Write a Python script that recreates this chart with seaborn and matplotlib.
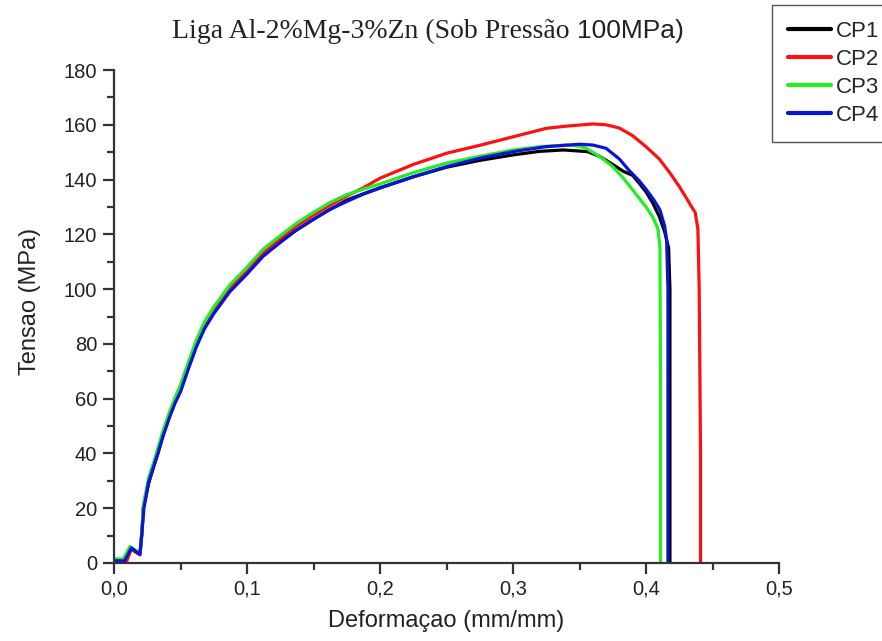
import numpy as np
import pandas as pd
import matplotlib
matplotlib.use("Agg")
import matplotlib.pyplot as plt
from matplotlib.ticker import MultipleLocator, FuncFormatter
import seaborn as sns

# ---- data ----
cp1_x = [0.000, 0.008, 0.012, 0.0195, 0.021, 0.022, 0.026, 0.030, 0.033, 0.037,
         0.042, 0.046, 0.050, 0.056, 0.062, 0.068, 0.075, 0.081, 0.087, 0.094,
         0.100, 0.112, 0.125, 0.137, 0.150, 0.162, 0.175, 0.1875, 0.200, 0.225,
         0.250, 0.275, 0.300, 0.320, 0.338, 0.356, 0.365, 0.375, 0.383, 0.390,
         0.396, 0.400, 0.405, 0.410, 0.414, 0.417, 0.418, 0.418]
cp1_y = [0.5, 0.5, 5.5, 3.0, 11, 20, 29, 35.5, 40, 47,
         54, 59, 63, 71.5, 79.5, 86, 91.5, 95.5, 99.5, 103,
         106, 112, 117.5, 121.5, 125.5, 129, 132.5, 134.8, 137, 141,
         144.5, 147, 149, 150.3, 150.8, 150.2, 148.5, 145.5, 143, 141.5,
         138, 135.5, 131.5, 126.5, 121, 115, 100, 0]

cp2_x = [0.000, 0.009, 0.013, 0.0195, 0.021, 0.022, 0.026, 0.030, 0.033, 0.037,
         0.042, 0.046, 0.050, 0.056, 0.062, 0.068, 0.075, 0.081, 0.087, 0.094,
         0.100, 0.112, 0.125, 0.137, 0.150, 0.162, 0.175, 0.1875, 0.200, 0.225,
         0.250, 0.275, 0.300, 0.325, 0.340, 0.360, 0.370, 0.380, 0.390, 0.400,
         0.410, 0.418, 0.425, 0.430, 0.435, 0.437, 0.439, 0.440, 0.441, 0.441]
cp2_y = [0.0, 0.0, 5.0, 3.0, 11, 20, 29.5, 36, 40.5, 47.5,
         54.5, 59.5, 64, 72.5, 80.5, 87, 92.5, 96.5, 100.5, 104,
         107, 113, 118.5, 123, 127, 130.5, 134, 137, 140.5, 145.5,
         149.6, 152.5, 155.6, 158.7, 159.5, 160.3, 160, 158.8, 156, 152,
         147.5, 142.4, 137.5, 133.5, 129.5, 128, 122, 100, 40, 0]

cp3_x = [0.000, 0.007, 0.012, 0.0195, 0.021, 0.022, 0.026, 0.030, 0.033, 0.037,
         0.042, 0.046, 0.050, 0.056, 0.062, 0.068, 0.075, 0.081, 0.087, 0.094,
         0.100, 0.112, 0.125, 0.137, 0.150, 0.162, 0.175, 0.1875, 0.200, 0.225,
         0.250, 0.275, 0.300, 0.320, 0.340, 0.350, 0.355, 0.365, 0.375, 0.383,
         0.390, 0.396, 0.400, 0.405, 0.409, 0.4105, 0.411, 0.411]
cp3_y = [1.5, 1.5, 6.0, 3.5, 12, 21, 31, 37, 42, 48.5,
         55.5, 60.5, 65, 73.5, 81.5, 88, 93.5, 97.5, 101.5, 105,
         108, 114.5, 119.5, 124, 128, 131.5, 134.5, 136.5, 138.4, 142.5,
         146, 148.5, 150.8, 152, 152.6, 152.2, 151.4, 148.5, 144.7, 140.5,
         136.2, 132.5, 130, 126.4, 122, 115, 60, 0]

cp4_x = [0.000, 0.008, 0.013, 0.0195, 0.021, 0.0225, 0.026, 0.030, 0.033, 0.037,
         0.042, 0.046, 0.050, 0.056, 0.062, 0.068, 0.075, 0.081, 0.087, 0.094,
         0.100, 0.112, 0.125, 0.137, 0.150, 0.162, 0.175, 0.1875, 0.200, 0.225,
         0.250, 0.275, 0.300, 0.325, 0.350, 0.360, 0.370, 0.380, 0.387, 0.395,
         0.400, 0.406, 0.4105, 0.4140, 0.4155, 0.4165, 0.4165]
cp4_y = [0.8, 0.8, 5.5, 3.2, 11, 20, 29.5, 35.5, 40, 46.5,
         53.5, 58.5, 62.5, 71, 79, 85.5, 91, 95, 99, 102.5,
         105.5, 112, 117, 121.5, 125.5, 129, 132, 134.7, 136.9, 141,
         144.7, 147.8, 150.2, 152, 152.9, 152.6, 151.4, 147.5, 143.5, 139.5,
         136.5, 132.5, 128.9, 123, 117.9, 100, 0]

series_names = ["CP1", "CP2", "CP3", "CP4"]
series_colors = ["#000000", "#ff1010", "#22ee22", "#0a14d8"]

title_serif = "Liga Al-2%Mg-3%Zn (Sob Pressão "
title_sans = "100MPa)"
x_label = "Deformaçao (mm/mm)"
y_label = "Tensao (MPa)"

frames = []
for name, xs, ys in zip(series_names, [cp1_x, cp2_x, cp3_x, cp4_x], [cp1_y, cp2_y, cp3_y, cp4_y]):
    frames.append(pd.DataFrame({"x": xs, "y": ys, "CP": name}))
df = pd.concat(frames, ignore_index=True)

sns.set_style("ticks")
plt.rcParams["font.family"] = ["Liberation Sans", "DejaVu Sans"]

fig = plt.figure(figsize=(8.82, 6.41), dpi=100)
ax = fig.add_axes([114 / 882, 1 - 563 / 641, (779 - 114) / 882, (563 - 70) / 641])

sns.lineplot(data=df, x="x", y="y", hue="CP", palette=dict(zip(series_names, series_colors)),
             sort=False, estimator=None, linewidth=2.3, ax=ax)

ax.set_xlim(0, 0.5)
ax.set_ylim(0, 180)
ax.xaxis.set_major_locator(MultipleLocator(0.1))
ax.xaxis.set_minor_locator(MultipleLocator(0.05))
ax.yaxis.set_major_locator(MultipleLocator(20))
ax.yaxis.set_minor_locator(MultipleLocator(10))
ax.xaxis.set_major_formatter(FuncFormatter(lambda v, p: f"{v:.1f}".replace(".", ",")))
ax.yaxis.set_major_formatter(FuncFormatter(lambda v, p: f"{v:.0f}"))

for s in ["top", "right"]:
    ax.spines[s].set_visible(False)
for s in ["left", "bottom"]:
    ax.spines[s].set_linewidth(1.6)
    ax.spines[s].set_color("#333333")

ax.tick_params(which="major", direction="out", length=8, width=1.6, color="#333333",
               labelsize=14.5, labelcolor="#222222", pad=4)
ax.tick_params(which="minor", direction="out", length=5, width=1.6, color="#333333")

ax.set_xlabel(x_label, fontsize=17, color="#222222")
ax.set_ylabel(y_label, fontsize=17, color="#222222")
ax.xaxis.set_label_coords(0.5, (563 - 610) / 493)
ax.yaxis.set_label_coords((41 - 114) / 665, (563 - 301) / 493)

handles, labels = ax.get_legend_handles_labels()
leg = ax.legend(handles, labels, loc="upper left", bbox_to_anchor=(772 / 882, 1 - 5 / 641),
                bbox_transform=fig.transFigure, fontsize=16, frameon=True, fancybox=False,
                handlelength=1.95, handletextpad=0.22, labelspacing=0.31, borderpad=0.72,
                borderaxespad=0, framealpha=1, edgecolor="#555555")
leg.get_frame().set_linewidth(1.0)
for line in leg.get_lines():
    line.set_linewidth(3)

# mixed-font title
t1 = fig.text(0, 0, title_serif, fontsize=20, family=["Liberation Serif", "DejaVu Serif"],
              color="#222222", va="baseline")
t2 = fig.text(0, 0, title_sans, fontsize=19, family=["Liberation Sans", "DejaVu Sans"],
              color="#222222", va="baseline")
fig.canvas.draw()
r = fig.canvas.get_renderer()
w1 = t1.get_window_extent(r).width
w2 = t2.get_window_extent(r).width
total = w1 + w2
cx = 428
x0 = cx - total / 2
yb = 641 - 38
t1.set_position((x0 / 882, yb / 641))
t2.set_position(((x0 + w1) / 882, yb / 641))

fig.savefig("out.png", dpi=100)
